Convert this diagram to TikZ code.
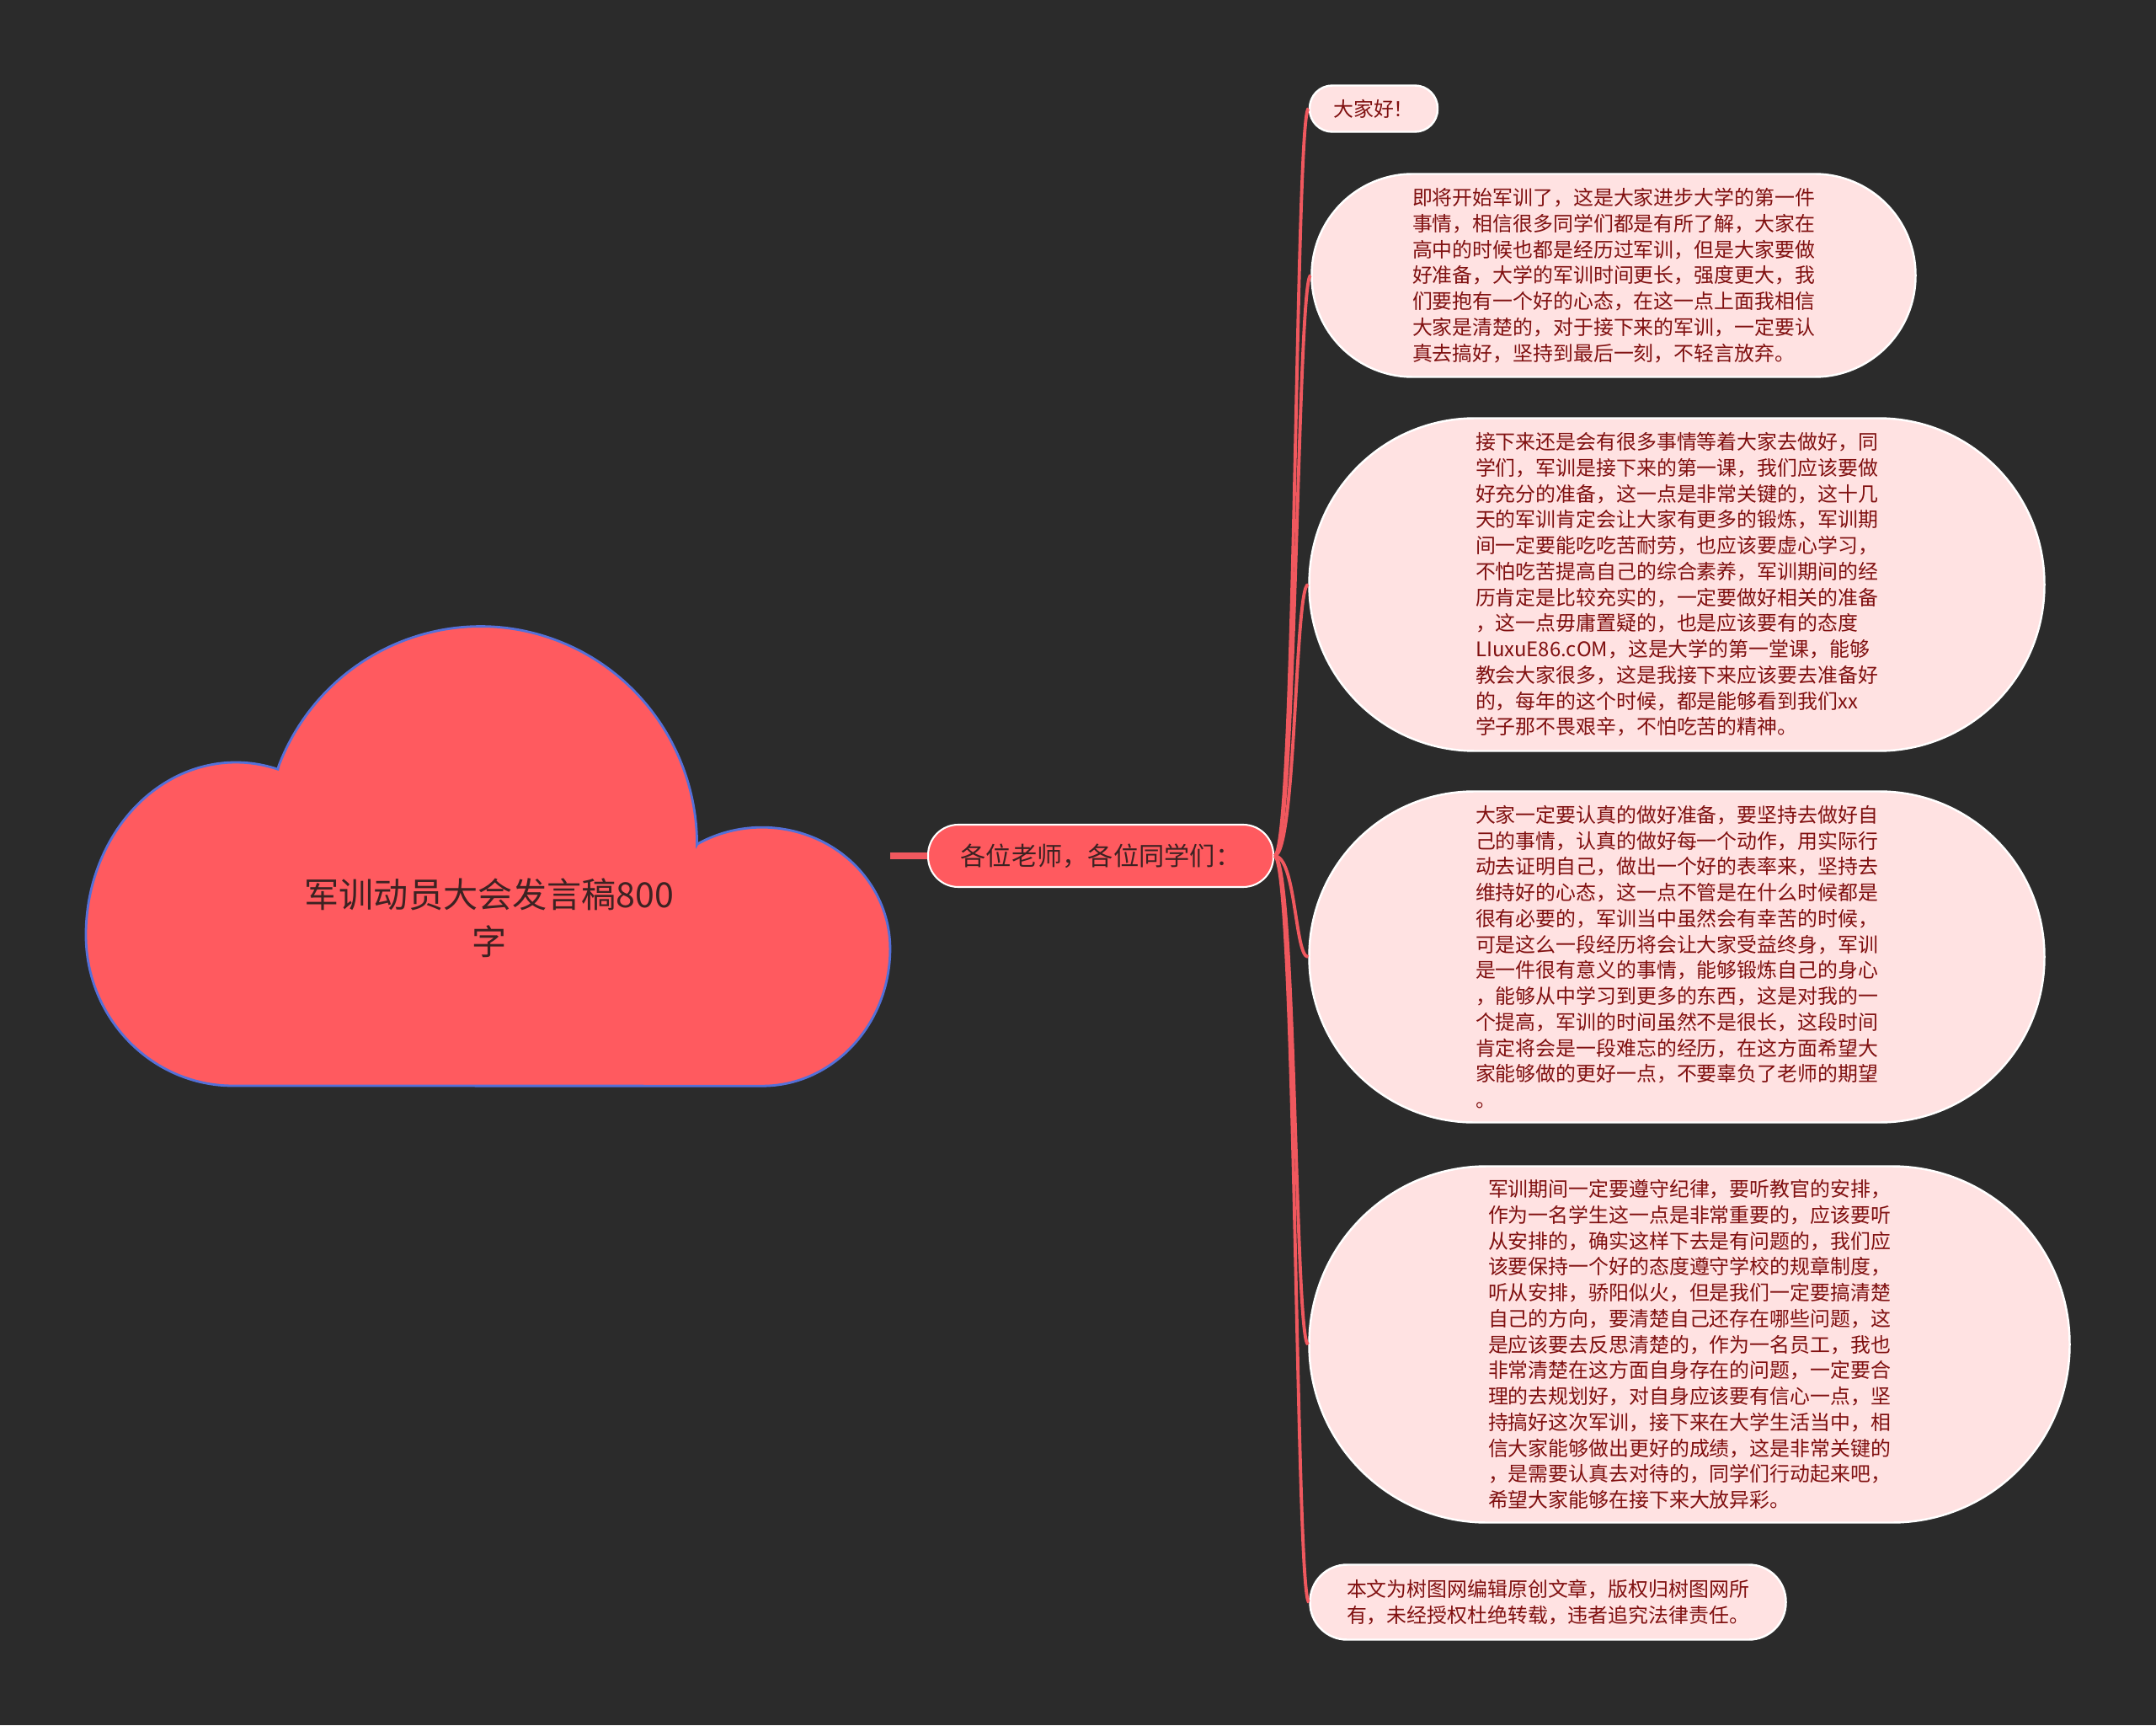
\documentclass[tikz,border=0pt]{standalone}
\usepackage{fontspec}
\usepackage{xcolor}
\usepackage{tikz}
\usetikzlibrary{positioning,calc}
\newfontfamily\cjk{Noto Sans CJK SC}
\definecolor{BgDark}{RGB}{43,43,43}
\definecolor{CloudRed}{RGB}{255,90,95}
\definecolor{CloudEdge}{RGB}{84,112,216}
\definecolor{LeafPink}{RGB}{255,226,226}
\definecolor{LeafText}{RGB}{128,16,16}
\definecolor{LinkRed}{RGB}{240,88,94}
\definecolor{HeadText}{RGB}{60,34,34}

\begin{document}
\begin{tikzpicture}[
  cloud/.style={
    draw=CloudEdge,
    fill=CloudRed,
    line width=0.8pt
  },
  maintitle/.style={
    align=center,
    text=HeadText,
    font=\cjk\fontsize{11.7}{15.9}\selectfont
  },
  topic/.style={
    draw=white,
    fill=CloudRed,
    rounded corners=0.36cm,
    minimum width=4.10cm,
    minimum height=0.74cm,
    inner sep=0pt,
    line width=0.6pt,
    text=HeadText,
    font=\cjk\fontsize{8.6}{10}\selectfont
  },
  leaf/.style={
    draw=white,
    fill=LeafPink,
    inner sep=0pt,
    line width=0.7pt,
    align=left,
    text=LeafText,
    font=\cjk\fontsize{6.8}{8.75}\selectfont
  },
  link/.style={draw=LinkRed, line width=1.1pt},
  trunk/.style={draw=LinkRed, line width=2.2pt}
]
\useasboundingbox (0,0) rectangle (25.6,20.48);
\fill[BgDark] (0,0) rectangle (25.6,20.48);

% central cloud
\draw[cloud] (1.02,9.38)
  arc[start angle=180, end angle=73.7, x radius=1.78, y radius=2.05]
  -- (3.31,11.39)
  arc[start angle=158.8, end angle=0, x radius=2.57, y radius=2.59]
  -- (8.28,10.46)
  arc[start angle=120.4, end angle=0, x radius=1.52, y radius=1.44]
  arc[start angle=0, end angle=-90, x radius=1.52, y radius=1.63]
  -- (2.77,7.59)
  arc[start angle=270, end angle=180, x radius=1.75, y radius=1.79]
  -- cycle;
\node[maintitle] (title) at (5.81,9.58) {军训动员大会发言稿800\\字};
\coordinate (cloudtip) at (10.57,10.32);

\node[topic] (greet) at (13.07,10.32) {各位老师，各位同学们：};

\node[leaf, minimum width=1.52cm, minimum height=0.55cm, rounded corners=0.27cm] (hello) at (16.31,19.19) {大家好！};

\node[leaf, minimum width=7.17cm, minimum height=2.41cm, rounded corners=1.20cm] (intro) at (19.16,17.21) {即将开始军训了，这是大家进步大学的第一件\\
事情，相信很多同学们都是有所了解，大家在\\
高中的时候也都是经历过军训，但是大家要做\\
好准备，大学的军训时间更长，强度更大，我\\
们要抱有一个好的心态，在这一点上面我相信\\
大家是清楚的，对于接下来的军训，一定要认\\
真去搞好，坚持到最后一刻，不轻言放弃。};

\node[leaf, minimum width=8.73cm, minimum height=3.95cm, rounded corners=1.97cm] (lesson) at (19.91,13.54) {接下来还是会有很多事情等着大家去做好，同\\
学们，军训是接下来的第一课，我们应该要做\\
好充分的准备，这一点是非常关键的，这十几\\
天的军训肯定会让大家有更多的锻炼，军训期\\
间一定要能吃吃苦耐劳，也应该要虚心学习，\\
不怕吃苦提高自己的综合素养，军训期间的经\\
历肯定是比较充实的，一定要做好相关的准备\\
，这一点毋庸置疑的，也是应该要有的态度\\
LIuxuE86.cOM，这是大学的第一堂课，能够\\
教会大家很多，这是我接下来应该要去准备好\\
的，每年的这个时候，都是能够看到我们xx\\
学子那不畏艰辛，不怕吃苦的精神。};

\node[leaf, minimum width=8.73cm, minimum height=3.93cm, rounded corners=1.96cm] (attitude) at (19.91,9.12) {大家一定要认真的做好准备，要坚持去做好自\\
己的事情，认真的做好每一个动作，用实际行\\
动去证明自己，做出一个好的表率来，坚持去\\
维持好的心态，这一点不管是在什么时候都是\\
很有必要的，军训当中虽然会有幸苦的时候，\\
可是这么一段经历将会让大家受益终身，军训\\
是一件很有意义的事情，能够锻炼自己的身心\\
，能够从中学习到更多的东西，这是对我的一\\
个提高，军训的时间虽然不是很长，这段时间\\
肯定将会是一段难忘的经历，在这方面希望大\\
家能够做的更好一点，不要辜负了老师的期望\\
。};

\node[leaf, minimum width=9.03cm, minimum height=4.23cm, rounded corners=2.11cm] (discipline) at (20.06,4.52) {军训期间一定要遵守纪律，要听教官的安排，\\
作为一名学生这一点是非常重要的，应该要听\\
从安排的，确实这样下去是有问题的，我们应\\
该要保持一个好的态度遵守学校的规章制度，\\
听从安排，骄阳似火，但是我们一定要搞清楚\\
自己的方向，要清楚自己还存在哪些问题，这\\
是应该要去反思清楚的，作为一名员工，我也\\
非常清楚在这方面自身存在的问题，一定要合\\
理的去规划好，对自身应该要有信心一点，坚\\
持搞好这次军训，接下来在大学生活当中，相\\
信大家能够做出更好的成绩，这是非常关键的\\
，是需要认真去对待的，同学们行动起来吧，\\
希望大家能够在接下来大放异彩。};

\node[leaf, minimum width=5.65cm, minimum height=0.89cm, rounded corners=0.44cm] (notice) at (18.38,1.46) {本文为树图网编辑原创文章，版权归树图网所\\
有，未经授权杜绝转载，违者追究法律责任。};

% connectors
\draw[trunk] (cloudtip) -- (greet.west);
\draw[link] (greet.east) .. controls +(0.26,0) and +(-0.16,0) .. (hello.west);
\draw[link] (greet.east) .. controls +(0.26,0) and +(-0.16,0) .. (intro.west);
\draw[link] (greet.east) .. controls +(0.26,0) and +(-0.16,0) .. (lesson.west);
\draw[link] (greet.east) .. controls +(0.26,0) and +(-0.16,0) .. (attitude.west);
\draw[link] (greet.east) .. controls +(0.26,0) and +(-0.16,0) .. (discipline.west);
\draw[link] (greet.east) .. controls +(0.26,0) and +(-0.16,0) .. (notice.west);
\end{tikzpicture}
\end{document}
